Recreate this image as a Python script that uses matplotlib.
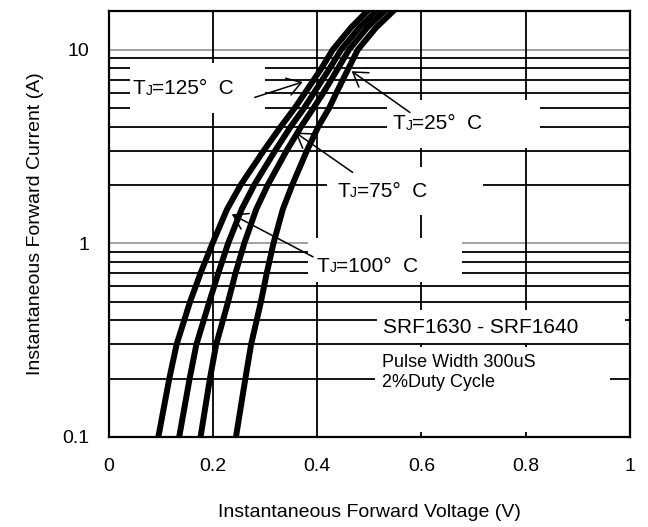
import matplotlib
matplotlib.use("Agg")
import matplotlib.pyplot as plt  # Data visualisation
from matplotlib.patches import Rectangle

plt.rcParams["font.family"] = ["Liberation Sans", "DejaVu Sans"]

# Forward current (A) at which the voltages were read
current = [0.1, 0.2, 0.3, 0.5, 0.7, 1, 1.5, 2, 3, 4, 5, 6, 8, 10, 13, 16]

# Forward voltage (V) for each junction temperature
v_125 = [0.095, 0.116, 0.130, 0.156, 0.176, 0.199, 0.227, 0.253, 0.297, 0.330, 0.357, 0.377, 0.408, 0.430, 0.465, 0.498]
v_100 = [0.135, 0.155, 0.168, 0.193, 0.210, 0.229, 0.255, 0.279, 0.319, 0.349, 0.375, 0.394, 0.424, 0.446, 0.481, 0.515]
v_75 = [0.176, 0.194, 0.206, 0.229, 0.243, 0.260, 0.283, 0.305, 0.341, 0.369, 0.393, 0.412, 0.440, 0.461, 0.496, 0.531]
v_25 = [0.244, 0.262, 0.273, 0.292, 0.303, 0.316, 0.334, 0.352, 0.380, 0.402, 0.423, 0.437, 0.460, 0.478, 0.513, 0.548]

x_ticks = [0, 0.2, 0.4, 0.6, 0.8, 1]
x_tick_labels = ["0", "0.2", "0.4", "0.6", "0.8", "1"]
y_ticks = [0.1, 1, 10]
y_tick_labels = ["0.1", "1", "10"]

fig = plt.figure(figsize=(6.48, 5.27), dpi=100)
ax = fig.add_axes([0.168, 0.171, 0.804, 0.808])
ax.set_yscale("log")
ax.set_xlim(0, 1)
ax.set_ylim(0.1, 15.8)

# Grid: grey decade lines, black minor lines, black vertical lines
for decade in [1, 10]:
    ax.axhline(decade, color="#a0a0a0", lw=1.4, zorder=1)
for d in [0.1, 1]:
    for k in range(2, 10):
        if d * k < 15.8:
            ax.axhline(d * k, color="black", lw=1.3, zorder=1)
for xv in x_ticks[1:-1]:
    ax.axvline(xv, color="black", lw=1.3, zorder=1)

# White boxes behind the annotations (axes fraction)
boxes = [(0.040, 0.761, 0.259, 0.117), (0.534, 0.678, 0.293, 0.113),
         (0.418, 0.521, 0.300, 0.113), (0.382, 0.364, 0.296, 0.103),
         (0.514, 0.221, 0.476, 0.077), (0.511, 0.012, 0.451, 0.199)]
for bx, by, bw, bh in boxes:
    ax.add_patch(Rectangle((bx, by), bw, bh, transform=ax.transAxes,
                           facecolor="white", edgecolor="none", zorder=2))

for v in [v_125, v_100, v_75, v_25]:
    ax.plot(v, current, color="black", lw=4.3, solid_capstyle="butt",
            solid_joinstyle="round", zorder=4)


def tj_label(x, y, temp):
    t = ax.text(x, y, "T", fontsize=15, va="bottom", ha="left", zorder=5)
    j = ax.annotate("J", xy=(1, 0.02), xycoords=t, fontsize=10, va="bottom", ha="left", zorder=5)
    ax.annotate("=" + temp + "°  C", xy=(1, 0.0), xycoords=j, xytext=(0, -0.3), textcoords="offset points",
                fontsize=15, va="bottom", ha="left", zorder=5)


tj_label(0.046, 5.6, "125")
tj_label(0.545, 3.7, "25")
tj_label(0.438, 1.66, "75")
tj_label(0.399, 0.68, "100")

arrow = dict(arrowstyle="->, head_length=0.7, head_width=0.45", color="black", lw=1.1,
             shrinkA=0, shrinkB=0, mutation_scale=14)
ax.annotate("", xy=(0.372, 6.8), xytext=(0.280, 5.66), arrowprops=arrow, zorder=5)
ax.annotate("", xy=(0.466, 7.73), xytext=(0.578, 4.73), arrowprops=arrow, zorder=5)
ax.annotate("", xy=(0.358, 3.73), xytext=(0.468, 2.32), arrowprops=arrow, zorder=5)
ax.annotate("", xy=(0.236, 1.41), xytext=(0.392, 0.85), arrowprops=arrow, zorder=5)

ax.text(0.526, 0.365, "SRF1630 - SRF1640", fontsize=15, va="center", ha="left", zorder=5)
ax.text(0.525, 0.241, "Pulse Width 300uS", fontsize=13, va="center", ha="left", zorder=5)
ax.text(0.525, 0.192, "2%Duty Cycle", fontsize=13, va="center", ha="left", zorder=5)

ax.set_xticks(x_ticks)
ax.set_xticklabels(x_tick_labels)
ax.set_yticks(y_ticks)
ax.set_yticklabels(y_tick_labels)
ax.minorticks_off()
ax.tick_params(length=0, labelsize=14)
ax.tick_params(axis="x", pad=15)
ax.tick_params(axis="y", pad=14)
for s in ax.spines.values():
    s.set_linewidth(1.6)
    s.set_zorder(6)

ax.set_xlabel("Instantaneous Forward Voltage (V)", fontsize=14, labelpad=21)
ax.set_ylabel("Instantaneous Forward Current (A)", fontsize=14, labelpad=13)

fig.savefig("out.png", dpi=100)
